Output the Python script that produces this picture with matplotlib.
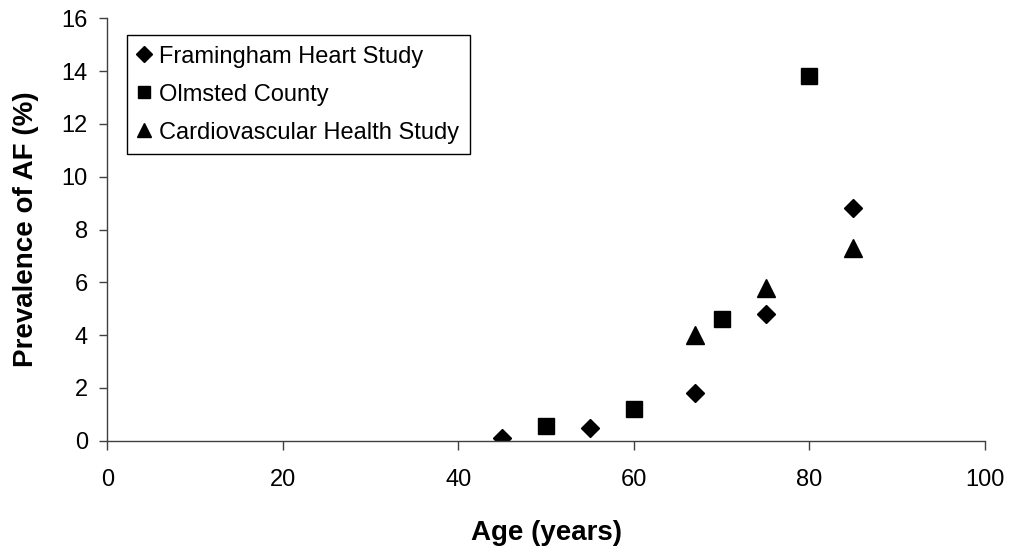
import matplotlib.pyplot as plt

plt.rcParams['font.family'] = ['Liberation Sans', 'DejaVu Sans']

# values
fram_age = [45, 55, 67, 75, 85]
fram_prev = [0.1, 0.5, 1.8, 4.8, 8.8]

olm_age = [50, 60, 70, 80]
olm_prev = [0.55, 1.2, 4.6, 13.8]

chs_age = [67, 75, 85]
chs_prev = [4.0, 5.8, 7.3]

x_ticks = [0, 20, 40, 60, 80, 100]
y_ticks = [0, 2, 4, 6, 8, 10, 12, 14, 16]


def main():
    fig = plt.figure(figsize=(10.1, 5.5), dpi=100)
    ax = fig.add_axes([0.1062, 0.1987, 0.869, 0.768])

    ax.plot(fram_age, fram_prev, linestyle='none', marker='D', ms=9.0,
            color='black', label='Framingham Heart Study')
    ax.plot(olm_age, olm_prev, linestyle='none', marker='s', ms=11.0,
            color='black', label='Olmsted County')
    ax.plot(chs_age, chs_prev, linestyle='none', marker='^', ms=12.5,
            color='black', label='Cardiovascular Health Study')

    ax.set_xlim(0, 100)
    ax.set_ylim(0, 16)
    ax.set_xticks(x_ticks)
    ax.set_yticks(y_ticks)

    for side in ('top', 'right'):
        ax.spines[side].set_visible(False)
    for side in ('left', 'bottom'):
        ax.spines[side].set_color('#404040')
        ax.spines[side].set_linewidth(1.0)

    ax.tick_params(axis='x', direction='out', length=6.2, width=1.0,
                   color='#404040', labelsize=17, pad=14)
    ax.tick_params(axis='y', direction='out', length=6, width=1.0,
                   color='#404040', labelsize=17, pad=8)

    ax.set_xlabel('Age (years)', fontsize=20, fontweight='bold', labelpad=21)
    ax.set_ylabel('Prevalence of AF (%)', fontsize=20, fontweight='bold',
                  labelpad=16)

    leg = ax.legend(loc='upper left', bbox_to_anchor=(0.0228, 0.9605),
                    fontsize=17, frameon=True, fancybox=False,
                    edgecolor='black', framealpha=1, handlelength=0.55,
                    handletextpad=0.35, borderpad=0.45, labelspacing=0.68,
                    markerscale=0.85, borderaxespad=0)
    leg.get_frame().set_linewidth(1.0)

    fig.savefig('out.png', dpi=100)


if __name__ == '__main__':
    main()
